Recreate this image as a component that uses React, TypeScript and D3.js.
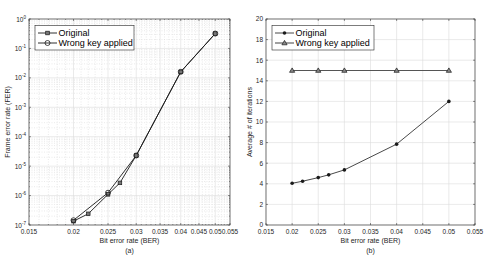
import React from "react";
import * as d3 from "d3";

// Panel (a): frame error rate vs BER (log-log)
const berOrigA = [0.02, 0.022, 0.025, 0.027, 0.03, 0.04, 0.05];
const ferOrig = [1.35e-7, 2.4e-7, 1.1e-6, 2.7e-6, 2.3e-5, 1.6e-2, 3.2e-1];
const berWrongA = [0.02, 0.025, 0.03, 0.04, 0.05];
const ferWrong = [1.45e-7, 1.25e-6, 2.3e-5, 1.6e-2, 3.2e-1];

// Panel (b): average iterations vs BER
const berOrigB = [0.02, 0.022, 0.025, 0.027, 0.03, 0.04, 0.05];
const iterOrig = [4.05, 4.25, 4.6, 4.87, 5.35, 7.85, 12.0];
const berWrongB = [0.02, 0.025, 0.03, 0.04, 0.05];
const iterWrong = [15, 15, 15, 15, 15];

const xTickValues = [0.015, 0.02, 0.025, 0.03, 0.035, 0.04, 0.045, 0.05, 0.055];
const xTickLabelsA = ["0.015", "0.02", "0.025", "0.03", "0.035", "0.04", "0.045", "0.05", "0.055"];
const xTickLabelsB = ["0.015", "0.02", "0.025", "0.03", "0.035", "0.04", "0.045", "0.05", "0.055"];
const yExpsA = [0, -1, -2, -3, -4, -5, -6, -7];
const yTicksB = [0, 2, 4, 6, 8, 10, 12, 14, 16, 18, 20];
const seriesNames = ["Original", "Wrong key applied"];

const FONT = "'Liberation Sans', Arial, Helvetica, sans-serif";
const AX = "#262626";
const LINE = "#1a1a1a";
const GRID = "#dcdcdc";
const TOP = 19;
const BOTTOM = 225;

function PanelA() {
  const x = d3.scaleLog().domain([0.015, 0.055]).range([29, 230]);
  const y = d3.scaleLog().domain([1e-7, 1]).range([BOTTOM, TOP]);
  const minorX = d3.range(15, 56).map((v) => v / 1000).filter((v) => !xTickValues.some((t) => Math.abs(t - v) < 1e-9));
  const minorY: number[] = [];
  for (let e = -7; e < 0; e++) for (let m = 2; m <= 9; m++) minorY.push(m * Math.pow(10, e));
  const lineGen = d3.line<[number, number]>().x((d) => x(d[0])).y((d) => y(d[1]));
  const origPts = berOrigA.map((b, i) => [b, ferOrig[i]] as [number, number]);
  const wrongPts = berWrongA.map((b, i) => [b, ferWrong[i]] as [number, number]);
  const [x0, x1] = x.range();
  return (
    <g>
      {minorX.map((v, i) => (
        <line key={"mx" + i} x1={x(v)} x2={x(v)} y1={TOP} y2={BOTTOM} stroke={GRID} strokeWidth={0.6} strokeDasharray="1,1.5" />
      ))}
      {minorY.map((v, i) => (
        <line key={"my" + i} x1={x0} x2={x1} y1={y(v)} y2={y(v)} stroke={GRID} strokeWidth={0.6} strokeDasharray="1,1.5" />
      ))}
      {xTickValues.map((v, i) => (
        <line key={"gx" + i} x1={x(v)} x2={x(v)} y1={TOP} y2={BOTTOM} stroke={GRID} strokeWidth={0.6} />
      ))}
      {yExpsA.map((e, i) => (
        <line key={"gy" + i} x1={x0} x2={x1} y1={y(Math.pow(10, e))} y2={y(Math.pow(10, e))} stroke={GRID} strokeWidth={0.6} />
      ))}
      {/* ticks */}
      {xTickValues.map((v, i) => (
        <g key={"tx" + i}>
          <line x1={x(v)} x2={x(v)} y1={BOTTOM} y2={BOTTOM - 2} stroke={AX} strokeWidth={0.5} />
          <line x1={x(v)} x2={x(v)} y1={TOP} y2={TOP + 2} stroke={AX} strokeWidth={0.5} />
        </g>
      ))}
      {minorX.map((v, i) => (
        <g key={"tmx" + i}>
          <line x1={x(v)} x2={x(v)} y1={BOTTOM} y2={BOTTOM - 1} stroke={AX} strokeWidth={0.4} />
          <line x1={x(v)} x2={x(v)} y1={TOP} y2={TOP + 1} stroke={AX} strokeWidth={0.4} />
        </g>
      ))}
      {minorY.map((v, i) => (
        <g key={"tmy" + i}>
          <line x1={x0} x2={x0 + 1} y1={y(v)} y2={y(v)} stroke={AX} strokeWidth={0.4} />
          <line x1={x1} x2={x1 - 1} y1={y(v)} y2={y(v)} stroke={AX} strokeWidth={0.4} />
        </g>
      ))}
      {yExpsA.map((e, i) => (
        <g key={"ty" + i}>
          <line x1={x0} x2={x0 + 2} y1={y(Math.pow(10, e))} y2={y(Math.pow(10, e))} stroke={AX} strokeWidth={0.5} />
          <line x1={x1} x2={x1 - 2} y1={y(Math.pow(10, e))} y2={y(Math.pow(10, e))} stroke={AX} strokeWidth={0.5} />
          <text x={x0 - 3} y={y(Math.pow(10, e)) + 2.5} fontSize={6.5} textAnchor="end" fill={AX} fontFamily={FONT}>
            10<tspan fontSize={4.5} dy={-3}>{e}</tspan>
          </text>
        </g>
      ))}
      {xTickValues.map((v, i) => (
        <text key={"lx" + i} x={x(v)} y={BOTTOM + 9} fontSize={6.5} textAnchor="middle" fill={AX} fontFamily={FONT}>
          {xTickLabelsA[i]}
        </text>
      ))}
      <rect x={x0} y={TOP} width={x1 - x0} height={BOTTOM - TOP} fill="none" stroke={AX} strokeWidth={0.6} />
      {/* series */}
      <path d={lineGen(wrongPts) || ""} fill="none" stroke={LINE} strokeWidth={0.9} />
      <path d={lineGen(origPts) || ""} fill="none" stroke={LINE} strokeWidth={0.9} />
      {origPts.map((d, i) => (
        <rect key={"so" + i} x={x(d[0]) - 1.8} y={y(d[1]) - 1.8} width={3.6} height={3.6} fill="#777" stroke={LINE} strokeWidth={0.7} />
      ))}
      {wrongPts.map((d, i) => (
        <circle key={"sw" + i} cx={x(d[0])} cy={y(d[1])} r={2.5} fill="none" stroke={LINE} strokeWidth={0.8} />
      ))}
      {/* legend */}
      <rect x={35} y={25.5} width={99} height={24.5} fill="#fff" stroke={AX} strokeWidth={0.6} />
      <line x1={38} x2={57} y1={33} y2={33} stroke={LINE} strokeWidth={0.9} />
      <rect x={45.7} y={31.2} width={3.6} height={3.6} fill="#777" stroke={LINE} strokeWidth={0.7} />
      <text x={58.5} y={36.2} fontSize={9} fill="#000" fontFamily={FONT}>{seriesNames[0]}</text>
      <line x1={38} x2={57} y1={43} y2={43} stroke={LINE} strokeWidth={0.9} />
      <circle cx={47.5} cy={43} r={2.5} fill="none" stroke={LINE} strokeWidth={0.8} />
      <text x={58.5} y={46.2} fontSize={9} fill="#000" fontFamily={FONT}>{seriesNames[1]}</text>
      {/* titles */}
      <text x={(x0 + x1) / 2} y={243} fontSize={7} textAnchor="middle" fill={AX} fontFamily={FONT}>Bit error rate (BER)</text>
      <text x={(x0 + x1) / 2} y={252.5} fontSize={7} textAnchor="middle" fill={AX} fontFamily={FONT}>(a)</text>
      <text transform={`translate(9.5,${(TOP + BOTTOM) / 2}) rotate(-90)`} fontSize={7} textAnchor="middle" fill={AX} fontFamily={FONT}>Frame error rate (FER)</text>
    </g>
  );
}

function PanelB() {
  const x = d3.scaleLinear().domain([0.015, 0.055]).range([266, 475]);
  const y = d3.scaleLinear().domain([0, 20]).range([BOTTOM, TOP]);
  const lineGen = d3.line<[number, number]>().x((d) => x(d[0])).y((d) => y(d[1]));
  const origPts = berOrigB.map((b, i) => [b, iterOrig[i]] as [number, number]);
  const wrongPts = berWrongB.map((b, i) => [b, iterWrong[i]] as [number, number]);
  const [x0, x1] = x.range();
  const tri = (cx: number, cy: number) => `M${cx},${cy - 2.6}L${cx + 2.6},${cy + 1.8}L${cx - 2.6},${cy + 1.8}Z`;
  return (
    <g>
      {xTickValues.map((v, i) => (
        <line key={"gx" + i} x1={x(v)} x2={x(v)} y1={TOP} y2={BOTTOM} stroke={GRID} strokeWidth={0.6} />
      ))}
      {yTicksB.map((v, i) => (
        <line key={"gy" + i} x1={x0} x2={x1} y1={y(v)} y2={y(v)} stroke={GRID} strokeWidth={0.6} />
      ))}
      {xTickValues.map((v, i) => (
        <g key={"tx" + i}>
          <line x1={x(v)} x2={x(v)} y1={BOTTOM} y2={BOTTOM - 2} stroke={AX} strokeWidth={0.5} />
          <line x1={x(v)} x2={x(v)} y1={TOP} y2={TOP + 2} stroke={AX} strokeWidth={0.5} />
          <text x={x(v)} y={BOTTOM + 9} fontSize={6.5} textAnchor="middle" fill={AX} fontFamily={FONT}>{xTickLabelsB[i]}</text>
        </g>
      ))}
      {yTicksB.map((v, i) => (
        <g key={"ty" + i}>
          <line x1={x0} x2={x0 + 2} y1={y(v)} y2={y(v)} stroke={AX} strokeWidth={0.5} />
          <line x1={x1} x2={x1 - 2} y1={y(v)} y2={y(v)} stroke={AX} strokeWidth={0.5} />
          <text x={x0 - 3} y={y(v) + 2.3} fontSize={6.5} textAnchor="end" fill={AX} fontFamily={FONT}>{v}</text>
        </g>
      ))}
      <rect x={x0} y={TOP} width={x1 - x0} height={BOTTOM - TOP} fill="none" stroke={AX} strokeWidth={0.6} />
      <path d={lineGen(wrongPts) || ""} fill="none" stroke="#555" strokeWidth={1.1} />
      <path d={lineGen(origPts) || ""} fill="none" stroke={LINE} strokeWidth={0.8} />
      {origPts.map((d, i) => (
        <circle key={"so" + i} cx={x(d[0])} cy={y(d[1])} r={1.8} fill={LINE} />
      ))}
      {wrongPts.map((d, i) => (
        <path key={"sw" + i} d={tri(x(d[0]), y(d[1]))} fill="#888" stroke={LINE} strokeWidth={0.7} />
      ))}
      {/* legend */}
      <rect x={272} y={25.5} width={102} height={24.5} fill="#fff" stroke={AX} strokeWidth={0.6} />
      <line x1={275} x2={294} y1={33} y2={33} stroke={LINE} strokeWidth={0.8} />
      <circle cx={284.5} cy={33} r={1.8} fill={LINE} />
      <text x={295.5} y={36.2} fontSize={9} fill="#000" fontFamily={FONT}>{seriesNames[0]}</text>
      <line x1={275} x2={294} y1={43} y2={43} stroke="#555" strokeWidth={1.1} />
      <path d={tri(284.5, 43)} fill="#888" stroke={LINE} strokeWidth={0.7} />
      <text x={295.5} y={46.2} fontSize={9} fill="#000" fontFamily={FONT}>{seriesNames[1]}</text>
      <text x={(x0 + x1) / 2} y={243} fontSize={7} textAnchor="middle" fill={AX} fontFamily={FONT}>Bit error rate (BER)</text>
      <text x={(x0 + x1) / 2} y={252.5} fontSize={7} textAnchor="middle" fill={AX} fontFamily={FONT}>(b)</text>
      <text transform={`translate(252,${(TOP + BOTTOM) / 2}) rotate(-90)`} fontSize={7} textAnchor="middle" fill={AX} fontFamily={FONT}>Average # of iterations</text>
    </g>
  );
}

export default function App() {
  return (
    <svg width={485} height={256} style={{ position: "absolute", left: 0, top: 0, background: "#fff" }}>
      <rect width={485} height={256} fill="#fff" />
      <PanelA />
      <PanelB />
    </svg>
  );
}
